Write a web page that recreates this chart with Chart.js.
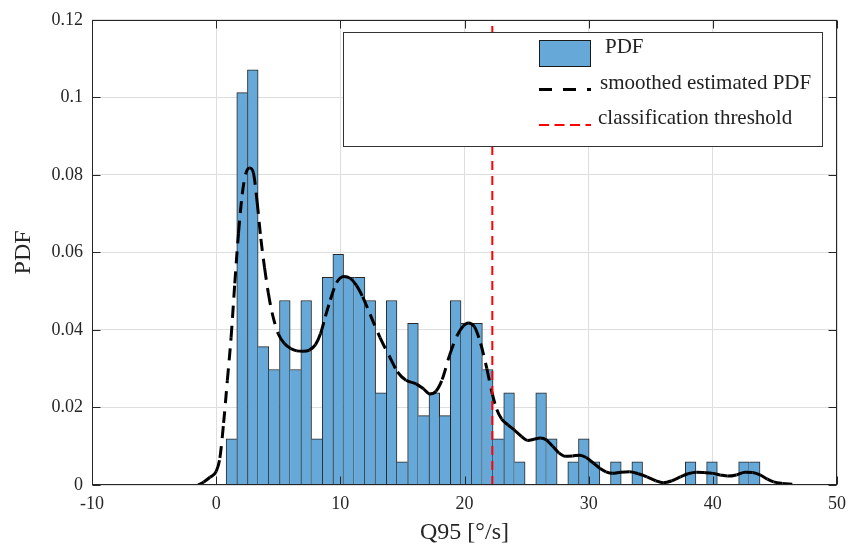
<!DOCTYPE html>
<html lang="en">
<head>
  <meta charset="UTF-8">
  <title>Q95 PDF</title>
  <script src="https://cdn.jsdelivr.net/npm/chart.js"></script>
  <style>
    html, body { margin: 0; padding: 0; background: #fff; }
    canvas { display: block; }
  </style>
</head>
<body>
  <canvas id="pdfChart" width="848" height="547"></canvas>

  <script>
    // histogram bins (centres) and their PDF heights
    const binCenters = [1.23, 2.09, 2.95, 3.81, 4.67, 5.53, 6.39, 7.25, 8.11, 8.97,
      9.83, 10.69, 11.55, 12.41, 13.27, 14.13, 14.99, 15.85, 16.71, 17.57,
      18.43, 19.29, 20.15, 21.01, 21.87, 22.73, 23.59, 24.45, 25.31, 26.17,
      27.03, 27.89, 28.75, 29.61, 30.47, 31.33, 32.19, 33.05, 33.91, 34.77,
      35.63, 36.49, 37.35, 38.21, 39.07, 39.93, 40.79, 41.65, 42.51, 43.37];
    const pdfValues = [0.0119, 0.1012, 0.1071, 0.0357, 0.0298, 0.0476, 0.0298, 0.0476, 0.0119, 0.0536,
      0.0595, 0.0536, 0.0536, 0.0476, 0.0238, 0.0476, 0.0060, 0.0417, 0.0179, 0.0238,
      0.0179, 0.0476, 0.0417, 0.0417, 0.0298, 0.0119, 0.0238, 0.0060, 0, 0.0238,
      0.0119, 0, 0.0060, 0.0119, 0.0060, 0, 0.0060, 0, 0.0060, 0,
      0, 0, 0, 0.0060, 0, 0.0060, 0, 0, 0.0060, 0.0060];

    // smoothed estimated PDF
    const kdeX = [-1.45, -1.0, -0.5, 0, 0.3, 0.6, 0.9, 1.2, 1.5, 1.8,
      2.1, 2.4, 2.7, 3.0, 3.3, 3.6, 3.9, 4.2, 4.5, 5.0,
      5.5, 6.0, 6.5, 7.0, 7.5, 8.0, 8.4, 8.8, 9.2, 9.7,
      10.3, 10.8, 11.3, 11.8, 12.4, 13.2, 14.0, 14.6, 15.3, 16.1,
      16.7, 17.2, 17.7, 18.2, 18.8, 19.4, 19.9, 20.3, 20.8, 21.3,
      21.8, 22.2, 22.6, 23.0, 23.5, 24.0, 24.6, 25.1, 25.6, 26.1,
      26.6, 27.1, 27.6, 28.1, 28.7, 29.3, 29.8, 30.4, 30.9, 31.4,
      31.9, 32.6, 33.3, 34.0, 34.7, 35.4, 36.0, 36.7, 37.4, 38.0,
      38.7, 39.3, 40.0, 40.6, 41.2, 41.9, 42.6, 43.2, 43.8, 44.4,
      44.9, 45.6, 46.4];
    const kdeY = [0, 0.0008, 0.002, 0.0035, 0.007, 0.016, 0.027, 0.038, 0.052, 0.065,
      0.075, 0.0805, 0.0818, 0.0805, 0.073, 0.0635, 0.056, 0.0495, 0.0445, 0.039,
      0.0365, 0.0352, 0.0346, 0.0345, 0.0348, 0.0362, 0.039, 0.0435, 0.0478, 0.0522,
      0.0538, 0.0533, 0.0515, 0.0485, 0.044, 0.038, 0.0329, 0.0292, 0.027, 0.0261,
      0.0248, 0.0235, 0.0242, 0.0272, 0.0335, 0.0385, 0.041, 0.0418, 0.0408, 0.0365,
      0.0300, 0.0240, 0.0195, 0.0170, 0.0155, 0.0142, 0.0125, 0.0115, 0.0118, 0.0121,
      0.0116, 0.0100, 0.0083, 0.0074, 0.0075, 0.0077, 0.0071, 0.0056, 0.0043, 0.0034,
      0.0030, 0.0033, 0.0034, 0.0029, 0.0021, 0.0011, 0.0006, 0.0011, 0.0021, 0.0029,
      0.0033, 0.0032, 0.0030, 0.0026, 0.0023, 0.0026, 0.0033, 0.0032, 0.0026, 0.0015,
      0.0008, 0.0004, 0.0002];

    const thresholdX = [22.24, 22.24];
    const thresholdY = [0, 0.12];

    const xTicks = [-10, 0, 10, 20, 30, 40, 50];
    const xTickLabels = ['-10', '0', '10', '20', '30', '40', '50'];
    const yTicks = [0, 0.02, 0.04, 0.06, 0.08, 0.1, 0.12];
    const yTickLabels = ['0', '0.02', '0.04', '0.06', '0.08', '0.1', '0.12'];

    const legendLabels = ['PDF', 'smoothed estimated PDF', 'classification threshold'];

    const barColor = '#66a9d8';
    const axisColor = '#262626';
    const serif = "'Liberation Serif', 'Times New Roman', serif";

    Chart.defaults.font.family = serif;
    Chart.defaults.color = axisColor;

    // box, inward ticks and the legend, drawn over the data like MATLAB does
    const frameAndLegend = {
      id: 'frameAndLegend',
      afterDraw(chart) {
        const { ctx, chartArea: a, scales: { x, y } } = chart;
        const L = Math.round(a.left) + 0.5, R = Math.round(a.right) - 0.5;
        const T = Math.round(a.top) + 0.5, B = Math.round(a.bottom) - 0.5;
        ctx.save();
        ctx.strokeStyle = axisColor;
        ctx.lineWidth = 1;
        ctx.setLineDash([]);
        ctx.strokeRect(L, T, R - L, B - T);
        ctx.beginPath();
        xTicks.forEach(v => {
          const px = Math.round(x.getPixelForValue(v)) + 0.5;
          ctx.moveTo(px, B); ctx.lineTo(px, B - 8);
          ctx.moveTo(px, T); ctx.lineTo(px, T + 8);
        });
        yTicks.forEach(v => {
          const py = Math.round(y.getPixelForValue(v)) + 0.5;
          ctx.moveTo(L, py); ctx.lineTo(L + 8, py);
          ctx.moveTo(R, py); ctx.lineTo(R - 8, py);
        });
        ctx.stroke();

        // legend box
        ctx.fillStyle = '#fff';
        ctx.fillRect(343.5, 32.5, 479, 114);
        ctx.strokeStyle = '#333';
        ctx.strokeRect(343.5, 32.5, 479, 114);

        ctx.fillStyle = barColor;
        ctx.fillRect(539.5, 40.5, 51, 26);
        ctx.strokeStyle = '#1a1a1a';
        ctx.strokeRect(539.5, 40.5, 51, 26);

        ctx.strokeStyle = '#000';
        ctx.lineWidth = 3;
        ctx.setLineDash([13, 11]);
        ctx.beginPath(); ctx.moveTo(539, 89.5); ctx.lineTo(591, 89.5); ctx.stroke();

        ctx.strokeStyle = '#ff0000';
        ctx.lineWidth = 2;
        ctx.setLineDash([10, 5.5]);
        ctx.beginPath(); ctx.moveTo(539, 125); ctx.lineTo(591, 125); ctx.stroke();

        ctx.setLineDash([]);
        ctx.fillStyle = '#222';
        ctx.font = '21px ' + serif;
        ctx.textBaseline = 'alphabetic';
        ctx.textAlign = 'left';
        ctx.fillText(legendLabels[0], 605, 52.5);
        ctx.fillText(legendLabels[1], 600, 88.5);
        ctx.fillText(legendLabels[2], 598, 123.5);
        ctx.restore();
      }
    };

    const ctx = document.getElementById('pdfChart').getContext('2d');
    new Chart(ctx, {
      type: 'bar',
      data: {
        datasets: [
          {
            type: 'line',
            label: legendLabels[2],
            data: thresholdX.map((v, i) => ({ x: v, y: thresholdY[i] })),
            borderColor: '#ff0000',
            borderWidth: 2,
            borderDash: [9, 6],
            pointRadius: 0,
            fill: false,
            order: 1
          },
          {
            type: 'line',
            label: legendLabels[1],
            data: kdeX.map((v, i) => ({ x: v, y: kdeY[i] })),
            borderColor: '#000',
            borderWidth: 3,
            pointRadius: 0,
            fill: false,
            cubicInterpolationMode: 'monotone',
            borderCapStyle: 'butt',
            // every segment gets its own stroke so the dash restarts, as in MATLAB
            segment: {
              borderDash: c => (c.p0DataIndex % 2 ? [12, 8] : [12, 8.0001])
            },
            order: 2
          },
          {
            type: 'bar',
            label: legendLabels[0],
            data: binCenters.map((v, i) => ({ x: v, y: pdfValues[i] })),
            backgroundColor: barColor,
            borderColor: 'rgba(15,15,15,0.9)',
            borderWidth: c => {
              const i = c.dataIndex, v = pdfValues[i];
              const prev = i > 0 ? pdfValues[i - 1] : 0;
              const next = i < pdfValues.length - 1 ? pdfValues[i + 1] : 0;
              return { top: 1, bottom: 0, left: v > prev ? 1 : 0, right: v >= next ? 1 : 0 };
            },
            barPercentage: 1,
            categoryPercentage: 1,
            order: 3
          }
        ]
      },
      options: {
        responsive: false,
        animation: false,
        layout: { padding: { top: 17, right: 11, left: 0, bottom: 0 } },
        plugins: {
          legend: { display: false },
          tooltip: { enabled: false }
        },
        scales: {
          x: {
            type: 'linear',
            min: -10,
            max: 50,
            offset: false,
            afterFit: s => { s.height = 62; s.paddingLeft = 0; s.paddingRight = 0; },
            afterBuildTicks: s => { s.ticks = xTicks.map(v => ({ value: v })); },
            ticks: {
              padding: 8,
              font: { size: 18 },
              color: axisColor,
              callback: (v, i) => xTickLabels[i]
            },
            grid: { color: '#dedede', drawTicks: false, offset: false },
            border: { display: false },
            title: {
              display: true,
              text: 'Q95 [°/s]',
              font: { size: 24 },
              color: axisColor,
              padding: { top: 0, bottom: 0 }
            }
          },
          y: {
            min: 0,
            max: 0.12,
            afterFit: s => { s.width = 92; },
            afterBuildTicks: s => { s.ticks = yTicks.map(v => ({ value: v })); },
            ticks: {
              padding: 9,
              font: { size: 18 },
              color: axisColor,
              callback: (v, i) => yTickLabels[i]
            },
            grid: { color: '#dedede', drawTicks: false },
            border: { display: false },
            title: {
              display: true,
              text: 'PDF',
              font: { size: 24 },
              color: axisColor,
              padding: { top: 9, bottom: 0 }
            }
          }
        }
      },
      plugins: [frameAndLegend]
    });
  </script>
</body>
</html>
